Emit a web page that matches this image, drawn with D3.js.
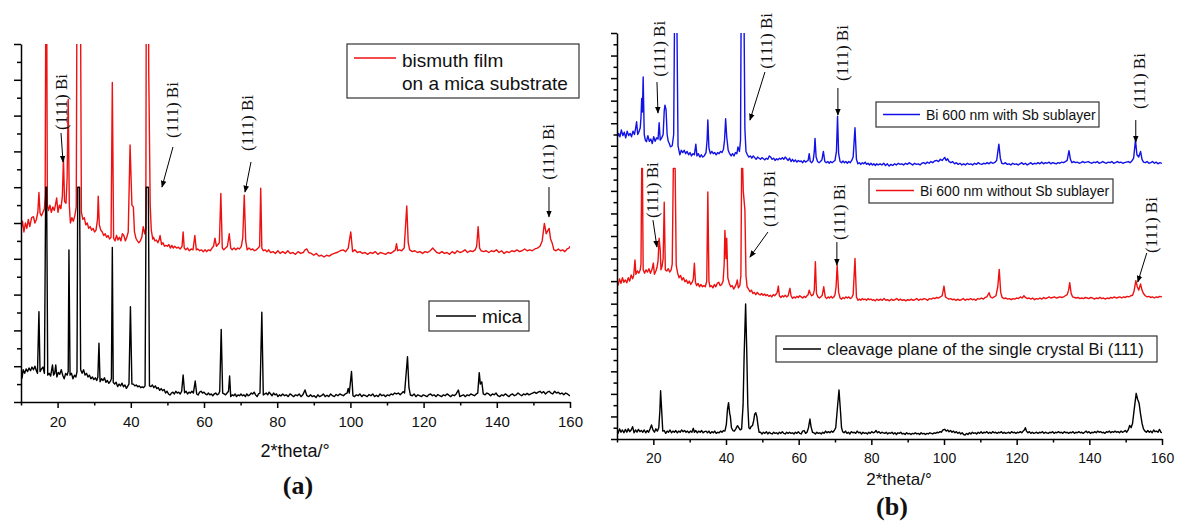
<!DOCTYPE html>
<html>
<head>
<meta charset="utf-8">
<script src="https://cdn.jsdelivr.net/npm/d3@7"></script>
<style>
  body { margin: 0; background: #fff; }
  svg { display: block; }
</style>
</head>
<body>
<div id="chart-area"></div>
<script>
// x axis ticks (2*theta, degrees)
const xMajorTicks = [20, 40, 60, 80, 100, 120, 140, 160];
const xMinorTicks = [10, 30, 50, 70, 90, 110, 130, 150];

// (a) bismuth film on a mica substrate, [2theta, intensity a.u.]
const filmA = [
  [10, 9.6], [10.4, 10.1], [10.8, 9.5], [11.2, 10.0], [11.6, 9.7], [12.0, 10.2], [12.4, 9.8], [12.9, 10.3],
  [13.4, 10.35], [13.8, 10.0], [14.2, 10.2], [14.6, 10.6], [14.9, 11.7], [15.2, 10.56], [15.6, 10.4], [16.0, 10.6],
  [16.4, 10.8], [16.6, 11.5], [16.9, 30], [17.2, 11.0], [17.5, 10.7], [17.9, 11.0], [18.3, 10.6], [18.7, 10.9],
  [19.1, 10.7], [19.4, 11.0], [19.75, 11.4], [20.1, 10.6], [20.5, 11.0], [20.9, 10.8], [21.3, 11.5], [21.6, 13.6],
  [21.9, 11.2], [22.3, 11.1], [22.6, 12.5], [22.9, 16.9], [23.2, 11.0], [23.5, 10.0], [23.9, 10.3], [24.3, 10.1],
  [24.7, 10.4], [25.1, 10.9], [25.4, 30], [26.1, 30], [26.5, 10.6], [26.9, 10.2], [27.3, 10.3], [27.7, 9.9],
  [28.1, 10.0], [28.5, 9.7], [28.9, 9.8], [29.3, 9.6], [29.7, 9.7], [30.1, 9.5], [30.5, 9.6], [30.9, 10.2],
  [31.1, 11.5], [31.4, 9.9], [31.8, 9.6], [32.2, 9.5], [32.6, 9.3], [33.0, 9.4], [33.4, 9.2], [33.8, 9.3],
  [34.2, 9.1], [34.6, 9.2], [34.95, 17.85], [35.3, 9.15], [35.7, 9.0], [36.1, 9.3], [36.5, 9.05], [36.9, 9.2],
  [37.3, 9.0], [37.7, 9.4], [38.1, 9.3], [38.5, 9.0], [38.9, 9.2], [39.3, 9.5], [39.8, 14.36], [40.3, 11.0],
  [40.7, 10.9], [41.0, 9.5], [41.4, 9.15], [41.8, 9.0], [42.2, 8.9], [42.6, 9.0], [43.0, 9.2], [43.4, 9.8],
  [43.8, 9.4], [44.1, 9.7], [44.3, 30], [44.7, 30], [44.9, 18.5], [45.3, 11], [45.6, 9.6], [46.0, 9.1],
  [46.2, 9.2], [46.6, 9.0], [47.0, 9.05], [47.4, 8.9], [47.8, 9.1], [48.0, 9.3], [48.4, 8.8], [48.8, 8.9],
  [49.2, 8.7], [49.6, 8.75], [50.0, 8.7], [50.4, 8.8], [50.8, 8.6], [51.2, 8.75], [51.6, 8.6], [52.0, 8.7],
  [52.5, 8.6], [53.0, 8.65], [53.5, 8.55], [54.0, 8.7], [54.3, 9.5], [54.6, 8.6], [55.0, 8.5], [55.5, 8.6],
  [56.0, 8.45], [56.5, 8.55], [57.0, 8.5], [57.5, 9.3], [57.9, 8.5], [58.3, 8.55], [58.8, 8.45], [59.3, 8.5],
  [59.8, 8.4], [60.3, 8.5], [60.7, 8.4], [61.2, 8.5], [61.7, 8.45], [62.2, 8.6], [62.6, 8.7], [63.0, 9.15],
  [63.4, 8.7], [63.8, 8.8], [64.2, 8.9], [64.6, 11.65], [65.0, 8.6], [65.4, 8.5], [65.9, 8.6], [66.4, 8.7],
  [66.9, 9.4], [67.3, 8.6], [67.7, 8.5], [68.2, 8.6], [68.7, 8.5], [69.2, 8.6], [69.7, 8.55], [70.2, 8.7],
  [70.6, 9.2], [71.0, 11.56], [71.4, 9.0], [71.8, 8.5], [72.3, 8.6], [72.8, 8.5], [73.3, 8.55], [73.8, 8.45],
  [74.3, 8.5], [74.8, 8.6], [75.2, 8.7], [75.5, 11.94], [75.8, 8.6], [76.2, 8.45], [76.7, 8.5], [77.2, 8.4],
  [77.7, 8.5], [78.2, 8.35], [78.9, 8.4], [79.5, 8.3], [80.2, 8.45], [80.8, 8.3], [81.5, 8.4], [82.2, 8.3],
  [82.9, 8.45], [83.6, 8.3], [84.3, 8.35], [85.0, 8.25], [85.7, 8.4], [86.4, 8.3], [87.1, 8.35], [87.6, 8.5],
  [88.1, 8.55], [88.6, 8.35], [89.3, 8.3], [90.0, 8.2], [90.7, 8.3], [91.4, 8.15], [92.1, 8.2], [92.8, 8.1],
  [93.5, 8.2], [94.2, 8.15], [94.9, 8.25], [95.6, 8.3], [96.3, 8.35], [97.2, 8.45], [98.0, 8.5], [98.7, 8.4],
  [99.4, 8.6], [100.1, 9.5], [100.6, 8.4], [101.2, 8.5], [101.9, 8.35], [102.6, 8.4], [103.3, 8.3], [104.0, 8.35],
  [104.7, 8.25], [105.4, 8.35], [106.1, 8.3], [106.8, 8.4], [107.5, 8.25], [108.2, 8.35], [108.9, 8.3], [109.6, 8.25],
  [110.3, 8.35], [111.0, 8.3], [111.7, 8.4], [112.3, 8.5], [112.6, 8.85], [112.9, 8.45], [113.4, 8.5], [114.0, 8.45],
  [114.7, 8.6], [115.4, 10.95], [115.8, 8.9], [116.2, 8.5], [116.9, 8.4], [117.6, 8.45], [118.3, 8.35], [119.0, 8.4],
  [119.7, 8.3], [120.4, 8.4], [121.1, 8.35], [121.8, 8.45], [122.5, 8.6], [122.9, 8.5], [123.6, 8.35], [124.3, 8.3],
  [125.0, 8.4], [125.7, 8.3], [126.4, 8.35], [127.1, 8.25], [127.8, 8.4], [128.5, 8.3], [129.2, 8.45], [129.9, 8.35],
  [130.6, 8.4], [131.3, 8.5], [132.0, 8.35], [132.7, 8.45], [133.4, 8.4], [134.1, 8.5], [134.5, 8.7], [134.9, 9.8],
  [135.3, 8.6], [135.7, 8.45], [136.4, 8.4], [137.1, 8.45], [137.8, 8.35], [138.5, 8.45], [139.2, 8.4], [139.9, 8.5],
  [140.6, 8.35], [141.3, 8.45], [142.0, 8.3], [142.7, 8.4], [143.4, 8.35], [144.1, 8.45], [144.8, 8.4], [145.5, 8.5],
  [146.2, 8.4], [146.9, 8.45], [147.6, 8.55], [148.3, 8.45], [149.0, 8.5], [149.7, 8.45], [150.4, 8.55], [151.1, 8.6],
  [151.8, 8.7], [152.4, 9.0], [153.0, 9.98], [153.5, 9.4], [154.0, 9.6], [154.3, 9.7], [154.7, 9.1], [155.1, 8.9],
  [155.6, 8.5], [156.2, 8.45], [156.8, 8.55], [157.4, 8.45], [158.0, 8.5], [158.6, 8.4], [159.2, 8.55], [159.7, 8.6],
  [160, 8.7]
];

// (a) mica
const micaA = [
  [10, 1.97], [10.3, 1.34], [10.6, 1.8], [11.0, 1.6], [11.4, 1.85], [11.8, 1.7], [12.2, 1.9], [12.6, 1.75],
  [13.0, 1.95], [13.4, 1.8], [13.8, 2.0], [14.2, 1.75], [14.5, 1.6], [14.9, 5.05], [15.2, 1.7], [15.6, 1.85],
  [16.0, 1.95], [16.4, 1.6], [16.75, 12], [17.0, 12], [17.3, 1.5], [17.7, 1.6], [18.1, 1.45], [18.6, 2.07],
  [18.9, 1.5], [19.2, 1.6], [19.5, 2.07], [19.8, 1.4], [20.2, 1.65], [20.6, 1.55], [21.0, 1.8], [21.4, 1.5],
  [21.8, 1.3], [22.2, 1.6], [22.6, 1.5], [22.9, 1.7], [23.1, 8.5], [23.4, 1.5], [23.8, 1.6], [24.2, 1.3],
  [24.6, 1.5], [25.0, 1.4], [25.3, 1.7], [25.5, 12], [26.0, 12], [26.3, 1.8], [26.7, 1.6], [27.1, 1.8],
  [27.5, 1.5], [27.9, 1.6], [28.3, 1.4], [28.7, 1.5], [29.1, 1.3], [29.5, 1.4], [29.9, 1.25], [30.3, 1.35],
  [30.7, 1.2], [31.0, 1.4], [31.3, 3.28], [31.6, 1.13], [32.0, 1.3], [32.4, 1.2], [32.8, 1.35], [33.2, 1.1],
  [33.6, 1.2], [34.0, 1.04], [34.4, 1.15], [34.7, 1.3], [34.95, 8.64], [35.2, 1.1], [35.6, 1.0], [36.0, 1.1],
  [36.4, 0.86], [36.8, 1.0], [37.2, 0.9], [37.6, 1.05], [38.0, 0.85], [38.4, 0.95], [38.8, 0.76], [39.2, 0.9],
  [39.5, 1.0], [39.9, 5.32], [40.3, 1.0], [40.7, 1.0], [41.1, 0.9], [41.5, 0.95], [41.9, 0.85], [42.3, 0.9],
  [42.7, 0.8], [43.1, 0.85], [43.5, 0.8], [43.9, 0.9], [44.2, 12], [44.8, 12], [45.1, 0.9], [45.5, 0.86],
  [45.9, 0.95], [46.3, 0.8], [46.7, 0.9], [47.1, 0.75], [47.5, 0.8], [47.9, 0.65], [48.3, 0.75], [48.7, 0.63],
  [49.1, 0.7], [49.5, 0.5], [49.9, 0.6], [50.3, 0.45], [50.7, 0.39], [51.1, 0.5], [51.5, 0.55], [51.9, 0.45],
  [52.3, 0.6], [52.7, 0.5], [53.1, 0.55], [53.5, 0.45], [53.9, 0.6], [54.3, 1.51], [54.7, 0.52], [55.1, 0.6],
  [55.5, 0.45], [55.9, 0.55], [56.3, 0.5], [56.7, 0.6], [57.1, 0.5], [57.6, 1.17], [58.0, 0.45], [58.4, 0.39],
  [58.8, 0.55], [59.2, 0.6], [59.6, 0.5], [60.0, 0.55], [60.4, 0.45], [60.8, 0.4], [61.2, 0.5], [61.6, 0.4],
  [62.0, 0.45], [62.4, 0.35], [62.8, 0.45], [63.2, 0.5], [63.6, 0.4], [64.0, 0.45], [64.3, 0.6], [64.7, 4.06],
  [65.1, 0.5], [65.5, 0.45], [65.9, 0.4], [66.3, 0.5], [66.7, 0.6], [67.0, 1.45], [67.3, 0.3], [67.7, 0.4],
  [68.1, 0.35], [68.5, 0.45], [68.9, 0.3], [69.3, 0.4], [69.7, 0.35], [70.1, 0.45], [70.5, 0.35], [70.9, 0.4],
  [71.3, 0.3], [71.7, 0.45], [72.1, 0.35], [72.5, 0.4], [72.9, 0.5], [73.3, 0.45], [73.7, 0.55], [74.1, 0.4],
  [74.5, 0.3], [74.9, 0.45], [75.3, 0.5], [75.8, 5.01], [76.2, 0.39], [76.6, 0.45], [77.0, 0.5], [77.4, 0.4],
  [77.8, 0.55], [78.2, 0.45], [78.6, 0.35], [79.0, 0.5], [79.4, 0.4], [79.8, 0.45], [80.2, 0.3], [80.6, 0.4],
  [81.0, 0.34], [81.5, 0.45], [82.0, 0.35], [82.5, 0.4], [83.0, 0.3], [83.5, 0.45], [84.0, 0.38], [84.5, 0.3],
  [85.0, 0.4], [85.5, 0.35], [86.0, 0.45], [86.5, 0.3], [87.0, 0.4], [87.6, 0.67], [88.1, 0.35], [88.6, 0.3],
  [89.1, 0.4], [89.6, 0.3], [90.1, 0.35], [90.6, 0.25], [91.1, 0.4], [91.6, 0.3], [92.1, 0.35], [92.6, 0.45],
  [93.1, 0.3], [93.6, 0.38], [94.1, 0.3], [94.6, 0.45], [95.1, 0.35], [95.6, 0.3], [96.1, 0.42], [96.6, 0.35],
  [97.1, 0.45], [97.6, 0.4], [98.1, 0.35], [98.6, 0.45], [99.1, 0.5], [99.4, 0.76], [99.7, 0.5], [100.3, 1.7],
  [100.7, 0.35], [101.1, 0.3], [101.6, 0.4], [102.1, 0.35], [102.6, 0.45], [103.1, 0.3], [103.6, 0.4], [104.1, 0.35],
  [104.6, 0.3], [105.1, 0.42], [105.6, 0.35], [106.1, 0.45], [106.6, 0.3], [107.1, 0.38], [107.6, 0.3], [108.1, 0.45],
  [108.6, 0.35], [109.1, 0.4], [109.6, 0.3], [110.1, 0.4], [110.6, 0.35], [111.1, 0.45], [111.6, 0.4], [112.1, 0.5],
  [112.6, 0.45], [113.1, 0.5], [113.6, 0.4], [114.1, 0.5], [114.4, 0.58], [114.8, 0.5], [115.6, 2.53], [116.0, 0.8],
  [116.4, 0.39], [116.9, 0.35], [117.4, 0.45], [117.9, 0.3], [118.4, 0.4], [118.9, 0.35], [119.4, 0.3], [119.9, 0.4],
  [120.4, 0.35], [120.9, 0.3], [121.4, 0.4], [121.9, 0.45], [122.4, 0.35], [122.9, 0.4], [123.4, 0.3], [123.9, 0.42],
  [124.4, 0.35], [124.9, 0.3], [125.4, 0.4], [125.9, 0.35], [126.4, 0.45], [126.9, 0.38], [127.4, 0.3], [127.9, 0.4],
  [128.4, 0.35], [128.9, 0.45], [129.5, 0.67], [129.9, 0.3], [130.4, 0.35], [130.9, 0.4], [131.4, 0.3], [131.9, 0.4],
  [132.4, 0.35], [132.9, 0.45], [133.4, 0.4], [133.9, 0.35], [134.4, 0.45], [134.8, 0.5], [135.2, 1.64], [135.5, 1.0],
  [135.9, 1.13], [136.3, 0.45], [136.8, 0.4], [137.3, 0.5], [137.8, 0.45], [138.3, 0.35], [138.8, 0.45], [139.3, 0.4],
  [139.8, 0.5], [140.3, 0.35], [140.8, 0.3], [141.3, 0.4], [141.8, 0.35], [142.3, 0.45], [142.8, 0.38], [143.3, 0.3],
  [143.8, 0.4], [144.3, 0.45], [144.8, 0.35], [145.3, 0.4], [145.8, 0.5], [146.3, 0.42], [146.8, 0.35], [147.3, 0.45],
  [147.8, 0.4], [148.3, 0.48], [148.8, 0.4], [149.3, 0.45], [149.8, 0.5], [150.3, 0.55], [150.8, 0.48], [151.3, 0.55],
  [151.8, 0.6], [152.3, 0.5], [152.8, 0.58], [153.3, 0.45], [153.8, 0.55], [154.3, 0.6], [154.8, 0.5], [155.3, 0.45],
  [155.8, 0.6], [156.3, 0.5], [156.8, 0.55], [157.3, 0.45], [157.8, 0.5], [158.3, 0.4], [158.8, 0.5], [159.3, 0.45],
  [160, 0.34]
];

// (b) Bi 600 nm with Sb sublayer
const withSb = [
  [10, 26.66], [10.4, 27.1], [10.8, 26.8], [11.2, 27.4], [11.6, 26.9], [12.0, 27.2], [12.4, 26.7], [12.8, 27.3],
  [13.2, 26.9], [13.6, 27.1], [14.0, 26.8], [14.4, 27.3], [14.8, 27.0], [15.1, 27.5], [15.4, 28.13], [15.7, 27.0],
  [16.0, 27.2], [16.4, 27.6], [16.6, 28.5], [16.8, 30.2], [17.0, 29.0], [17.2, 32.1], [17.5, 27.0], [17.8, 26.5],
  [18.1, 26.36], [18.5, 26.9], [18.9, 26.4], [19.3, 26.6], [19.7, 26.2], [20.1, 26.8], [20.5, 26.4], [20.9, 26.7],
  [21.3, 26.6], [21.6, 28.04], [21.9, 26.5], [22.3, 26.7], [22.7, 27.0], [23.0, 29.1], [23.2, 29.6], [23.5, 29.2],
  [23.8, 27.0], [24.1, 26.4], [24.4, 26.2], [24.7, 25.9], [25.2, 26.0], [25.6, 27], [25.9, 40], [26.4, 40],
  [26.8, 26], [27.3, 25.2], [27.7, 25.6], [28.1, 25.4], [28.5, 25.6], [28.9, 25.3], [29.3, 25.5], [29.7, 25.2],
  [30.1, 25.4], [30.5, 25.1], [30.9, 25.3], [31.3, 25.2], [31.7, 26.15], [32.0, 25.1], [32.4, 25.3], [32.8, 25.0],
  [33.2, 25.2], [33.6, 25.0], [34.0, 25.1], [34.5, 25.4], [34.8, 26.5], [35.0, 28.3], [35.3, 25.8], [35.7, 25.3],
  [36.1, 25.5], [36.5, 25.3], [36.9, 25.4], [37.3, 25.2], [37.7, 25.4], [38.1, 25.3], [38.5, 25.5], [38.9, 25.4],
  [39.3, 25.7], [39.6, 26.5], [39.9, 28.4], [40.2, 26.8], [40.6, 25.6], [41.0, 25.3], [41.4, 25.1], [41.8, 25.3],
  [42.2, 25.1], [42.6, 25.4], [43.0, 25.3], [43.3, 25.9], [43.7, 25.5], [44.0, 26.5], [44.2, 40], [44.9, 40],
  [45.2, 27.5], [45.5, 25.5], [45.9, 25.2], [46.3, 25.0], [46.7, 25.1], [47.1, 24.9], [47.5, 25.1], [47.9, 24.95],
  [48.3, 24.8], [48.7, 25.0], [49.1, 24.9], [49.5, 24.8], [49.9, 24.95], [50.3, 24.85], [50.7, 24.75], [51.1, 24.9],
  [51.5, 24.8], [51.9, 25.1], [52.3, 25.0], [52.7, 24.8], [53.1, 24.9], [53.5, 24.7], [53.9, 24.85], [54.3, 24.75],
  [54.7, 24.9], [55.1, 24.8], [55.5, 24.95], [55.9, 24.8], [56.3, 25.0], [56.7, 24.85], [57.1, 24.7], [57.5, 24.9],
  [57.9, 24.6], [58.3, 24.8], [58.7, 24.6], [59.1, 24.75], [59.5, 24.55], [59.9, 24.7], [60.3, 24.6], [60.7, 24.65],
  [61.1, 24.5], [61.5, 24.7], [61.9, 24.55], [62.3, 24.65], [62.6, 24.7], [62.9, 25.3], [63.2, 24.6], [63.6, 24.5],
  [64.0, 24.7], [64.3, 25.5], [64.5, 26.66], [64.8, 25.0], [65.2, 24.6], [65.6, 24.5], [66.0, 24.6], [66.4, 24.75],
  [66.8, 25.5], [67.2, 24.6], [67.6, 24.5], [68.0, 24.6], [68.4, 24.45], [68.8, 24.6], [69.2, 24.5], [69.6, 24.6],
  [70.0, 24.7], [70.4, 25.5], [70.7, 28.6], [71.0, 25.3], [71.4, 24.6], [71.8, 24.5], [72.2, 24.65], [72.6, 24.5],
  [73.0, 24.6], [73.4, 24.45], [73.8, 24.6], [74.2, 24.5], [74.6, 24.7], [75.0, 25.0], [75.5, 27.6], [75.9, 24.8],
  [76.3, 24.4], [76.7, 24.5], [77.1, 24.35], [77.5, 24.5], [77.9, 24.4], [78.3, 24.55], [78.7, 24.35], [79.1, 24.45],
  [79.5, 24.3], [79.9, 24.45], [80.3, 24.3], [80.7, 24.4], [81.1, 24.25], [81.5, 24.4], [81.9, 24.3], [82.4, 24.4],
  [82.9, 24.3], [83.4, 24.45], [83.9, 24.25], [84.4, 24.4], [84.9, 24.2], [85.4, 24.35], [85.9, 24.25], [86.4, 24.4],
  [86.9, 24.3], [87.4, 24.45], [87.9, 24.35], [88.4, 24.4], [88.9, 24.3], [89.4, 24.45], [89.9, 24.35], [90.4, 24.5],
  [90.9, 24.4], [91.4, 24.3], [91.9, 24.45], [92.4, 24.35], [92.9, 24.4], [93.4, 24.3], [93.9, 24.45], [94.4, 24.5],
  [94.9, 24.4], [95.4, 24.55], [95.9, 24.45], [96.4, 24.6], [96.9, 24.5], [97.4, 24.65], [98.0, 24.7], [98.5, 24.6],
  [99.0, 24.8], [99.5, 24.7], [100.2, 24.97], [100.6, 24.7], [101.0, 24.85], [101.4, 24.6], [101.9, 24.5], [102.4, 24.6],
  [102.9, 24.4], [103.4, 24.5], [103.9, 24.35], [104.4, 24.45], [104.9, 24.3], [105.4, 24.4], [105.9, 24.3], [106.4, 24.45],
  [106.9, 24.35], [107.4, 24.4], [107.9, 24.3], [108.4, 24.45], [108.9, 24.35], [109.4, 24.5], [109.9, 24.4], [110.4, 24.35],
  [110.9, 24.45], [111.4, 24.4], [111.9, 24.5], [112.4, 24.4], [112.9, 24.55], [113.4, 24.45], [113.9, 24.5], [114.5, 24.7],
  [115.1, 26.15], [115.5, 24.9], [115.9, 24.45], [116.4, 24.4], [116.9, 24.5], [117.4, 24.35], [117.9, 24.4], [118.4, 24.3],
  [118.9, 24.45], [119.4, 24.35], [119.9, 24.4], [120.4, 24.3], [120.9, 24.4], [121.4, 24.5], [121.9, 24.35], [122.4, 24.45],
  [122.9, 24.3], [123.4, 24.4], [123.9, 24.5], [124.4, 24.35], [124.9, 24.45], [125.4, 24.4], [125.9, 24.5], [126.4, 24.4],
  [126.9, 24.55], [127.4, 24.4], [127.9, 24.5], [128.4, 24.45], [128.9, 24.55], [129.4, 24.4], [129.9, 24.5], [130.4, 24.45],
  [130.9, 24.4], [131.4, 24.5], [131.9, 24.45], [132.4, 24.55], [132.9, 24.5], [133.4, 24.6], [133.9, 24.7], [134.4, 25.56],
  [134.8, 24.8], [135.2, 24.5], [135.7, 24.6], [136.2, 24.5], [136.7, 24.55], [137.2, 24.45], [137.7, 24.5], [138.2, 24.6],
  [138.7, 24.5], [139.2, 24.55], [139.7, 24.6], [140.2, 24.5], [140.7, 24.45], [141.2, 24.55], [141.7, 24.5], [142.2, 24.6],
  [142.7, 24.45], [143.2, 24.5], [143.7, 24.6], [144.2, 24.5], [144.7, 24.45], [145.2, 24.55], [145.7, 24.5], [146.2, 24.6],
  [146.7, 24.45], [147.2, 24.5], [147.7, 24.6], [148.2, 24.5], [148.7, 24.55], [149.2, 24.45], [149.7, 24.5], [150.2, 24.55],
  [150.7, 24.6], [151.2, 24.5], [151.7, 24.65], [152.2, 24.9], [152.7, 26.5], [153.1, 25.2], [153.6, 25.0], [154.1, 25.5],
  [154.5, 24.8], [154.9, 24.55], [155.4, 24.5], [155.9, 24.6], [156.4, 24.45], [156.9, 24.5], [157.4, 24.6], [157.9, 24.45],
  [158.4, 24.55], [158.9, 24.4], [159.4, 24.5], [160, 24.44]
];

// (b) Bi 600 nm without Sb sublayer
const withoutSb = [
  [10, 14.1], [10.3, 13.65], [10.7, 14.2], [11.1, 13.8], [11.5, 14.3], [11.9, 13.9], [12.3, 14.1], [12.7, 13.85],
  [13.1, 14.3], [13.5, 14.0], [13.9, 14.54], [14.3, 14.2], [14.6, 14.5], [14.95, 15.87], [15.2, 14.6], [15.6, 14.9],
  [16.0, 14.7], [16.4, 15.0], [16.6, 15.5], [16.8, 24], [17.0, 24], [17.2, 15.0], [17.6, 14.7], [18.0, 15.0],
  [18.4, 14.8], [18.8, 15.1], [19.2, 14.7], [19.6, 15.0], [20.0, 15.6], [20.3, 14.6], [20.7, 14.9], [21.0, 15.2],
  [21.3, 15.8], [21.6, 17.8], [21.9, 16.76], [22.1, 15.0], [22.4, 15.3], [22.7, 16], [23.0, 21.0], [23.3, 15.0],
  [23.7, 14.9], [24.1, 15.1], [24.5, 14.8], [24.9, 15.0], [25.2, 15.5], [25.5, 24], [26.0, 24], [26.3, 15.4],
  [26.7, 14.7], [27.1, 14.3], [27.5, 14.5], [27.9, 14.1], [28.3, 14.3], [28.7, 13.95], [29.1, 14.1], [29.5, 13.8],
  [29.9, 14.0], [30.3, 13.7], [30.7, 13.9], [31.0, 14.2], [31.3, 15.58], [31.6, 13.9], [31.9, 13.6], [32.3, 13.8],
  [32.7, 13.5], [33.1, 13.7], [33.5, 13.5], [33.9, 13.6], [34.3, 13.5], [34.7, 14.0], [35.0, 21.9], [35.3, 14.0],
  [35.6, 13.5], [36.0, 13.6], [36.4, 13.4], [36.8, 13.7], [37.2, 13.5], [37.6, 13.8], [38.0, 13.9], [38.4, 13.6],
  [38.8, 13.7], [39.2, 14.0], [39.5, 15.5], [39.7, 18.5], [40.0, 16.0], [40.2, 17.8], [40.5, 14.3], [40.9, 13.8],
  [41.3, 13.5], [41.7, 13.6], [42.1, 13.3], [42.5, 13.5], [42.9, 13.8], [43.1, 14.1], [43.4, 13.4], [43.8, 13.6],
  [44.1, 14.5], [44.3, 24], [44.6, 24], [44.75, 22], [45.2, 20.3], [45.5, 14.5], [45.8, 13.5], [46.2, 13.3],
  [46.6, 13.06], [47.0, 13.2], [47.4, 12.9], [47.8, 13.0], [48.2, 12.8], [48.6, 13.0], [49.0, 12.85], [49.4, 12.77],
  [49.8, 12.9], [50.2, 12.75], [50.6, 12.85], [51.0, 12.7], [51.4, 12.8], [51.8, 12.65], [52.2, 12.75], [52.6, 12.6],
  [53.0, 12.8], [53.4, 12.7], [53.8, 12.85], [54.1, 13.0], [54.4, 13.56], [54.7, 12.7], [55.1, 12.55], [55.5, 12.7],
  [55.9, 12.6], [56.3, 12.75], [56.7, 12.6], [57.1, 12.7], [57.6, 13.36], [57.9, 12.7], [58.3, 12.47], [58.7, 12.6],
  [59.1, 12.5], [59.5, 12.65], [59.9, 12.55], [60.3, 12.7], [60.7, 12.6], [61.1, 12.5], [61.5, 12.65], [61.9, 12.55],
  [62.3, 12.7], [62.6, 12.8], [62.9, 13.2], [63.2, 12.9], [63.6, 12.7], [64.0, 12.8], [64.3, 13.2], [64.6, 15.72],
  [64.9, 12.9], [65.3, 12.6], [65.7, 12.5], [66.1, 12.6], [66.5, 12.75], [66.9, 13.5], [67.3, 12.6], [67.7, 12.45],
  [68.1, 12.6], [68.5, 12.5], [68.9, 12.65], [69.3, 12.5], [69.7, 12.6], [70.0, 12.8], [70.3, 13.5], [70.6, 15.4],
  [71.0, 13.0], [71.4, 12.5], [71.8, 12.4], [72.2, 12.55], [72.6, 12.45], [73.0, 12.6], [73.4, 12.5], [73.8, 12.6],
  [74.2, 12.45], [74.6, 12.55], [75.0, 12.8], [75.5, 16.0], [75.9, 12.6], [76.3, 12.3], [76.7, 12.4], [77.1, 12.3],
  [77.5, 12.45], [77.9, 12.35], [78.3, 12.4], [78.7, 12.3], [79.1, 12.45], [79.5, 12.35], [79.9, 12.4], [80.3, 12.3],
  [80.7, 12.35], [81.1, 12.25], [81.5, 12.4], [82.0, 12.3], [82.5, 12.4], [83.0, 12.3], [83.5, 12.45], [84.0, 12.3],
  [84.5, 12.35], [85.0, 12.25], [85.5, 12.4], [86.0, 12.3], [86.5, 12.35], [87.0, 12.45], [87.5, 12.3], [88.0, 12.4],
  [88.5, 12.3], [89.0, 12.35], [89.5, 12.25], [90.0, 12.35], [90.5, 12.3], [91.0, 12.4], [91.5, 12.3], [92.0, 12.35],
  [92.5, 12.45], [93.0, 12.3], [93.5, 12.4], [94.0, 12.35], [94.5, 12.45], [95.0, 12.4], [95.5, 12.3], [96.0, 12.45],
  [96.5, 12.4], [97.0, 12.5], [97.5, 12.45], [98.0, 12.55], [98.5, 12.5], [99.0, 12.6], [99.5, 12.7], [100.0, 13.56],
  [100.4, 12.6], [100.8, 12.5], [101.3, 12.4], [101.8, 12.45], [102.3, 12.35], [102.8, 12.4], [103.3, 12.3], [103.8, 12.4],
  [104.3, 12.3], [104.8, 12.35], [105.3, 12.45], [105.8, 12.3], [106.3, 12.4], [106.8, 12.35], [107.3, 12.45], [107.8, 12.35],
  [108.3, 12.4], [108.8, 12.3], [109.3, 12.45], [109.8, 12.4], [110.3, 12.5], [110.8, 12.4], [111.3, 12.55], [111.8, 12.6],
  [112.4, 12.97], [112.8, 12.6], [113.3, 12.5], [113.8, 12.6], [114.3, 12.7], [114.8, 13.5], [115.2, 15.04], [115.6, 13.0],
  [116.0, 12.55], [116.5, 12.45], [117.0, 12.5], [117.5, 12.4], [118.0, 12.45], [118.5, 12.35], [119.0, 12.45], [119.5, 12.4],
  [120.0, 12.5], [120.5, 12.45], [121.0, 12.6], [121.5, 12.5], [122.0, 12.7], [122.4, 12.55], [122.9, 12.45], [123.4, 12.5],
  [123.9, 12.4], [124.4, 12.5], [124.9, 12.35], [125.4, 12.45], [125.9, 12.4], [126.4, 12.5], [126.9, 12.4], [127.4, 12.55],
  [127.9, 12.45], [128.4, 12.5], [128.9, 12.6], [129.4, 12.5], [129.9, 12.55], [130.4, 12.6], [130.9, 12.5], [131.4, 12.55],
  [131.9, 12.6], [132.4, 12.55], [132.9, 12.6], [133.4, 12.7], [133.9, 12.8], [134.3, 13.2], [134.6, 13.86], [135.0, 12.9],
  [135.4, 12.6], [135.9, 12.55], [136.4, 12.5], [136.9, 12.55], [137.4, 12.45], [137.9, 12.5], [138.4, 12.45], [138.9, 12.55],
  [139.4, 12.5], [139.9, 12.45], [140.4, 12.55], [140.9, 12.5], [141.4, 12.4], [141.9, 12.5], [142.4, 12.45], [142.9, 12.55],
  [143.4, 12.45], [143.9, 12.5], [144.4, 12.4], [144.9, 12.5], [145.4, 12.45], [145.9, 12.55], [146.4, 12.5], [146.9, 12.6],
  [147.4, 12.5], [147.9, 12.55], [148.4, 12.6], [148.9, 12.5], [149.4, 12.6], [149.9, 12.55], [150.4, 12.65], [150.9, 12.6],
  [151.4, 12.7], [151.9, 12.75], [152.3, 13.1], [152.8, 14.04], [153.2, 13.5], [153.6, 13.2], [154.1, 13.74], [154.5, 13.2],
  [154.9, 12.9], [155.4, 12.7], [155.9, 12.6], [156.4, 12.65], [156.9, 12.55], [157.4, 12.6], [157.9, 12.5], [158.4, 12.6],
  [158.9, 12.55], [159.4, 12.65], [160, 12.6]
];

// (b) cleavage plane of the single crystal Bi (111)
const cleavage = [
  [10, 0.95], [10.3, 0.5], [10.7, 0.9], [11.1, 0.6], [11.5, 0.8], [11.9, 0.55], [12.3, 0.85], [12.7, 0.6],
  [13.1, 0.9], [13.5, 0.65], [13.9, 0.8], [14.3, 1.09], [14.7, 0.55], [15.1, 0.8], [15.5, 0.6], [15.9, 0.85],
  [16.3, 0.65], [16.7, 0.75], [17.1, 0.6], [17.5, 0.8], [17.9, 0.55], [18.3, 0.75], [18.7, 0.6], [19.1, 0.9],
  [19.5, 1.24], [19.9, 0.8], [20.3, 0.6], [20.7, 0.9], [21.1, 0.7], [21.5, 1.0], [21.8, 2.5], [22.0, 4.28],
  [22.3, 2.5], [22.6, 0.7], [23.0, 0.75], [23.4, 0.5], [23.8, 0.7], [24.2, 0.6], [24.6, 0.8], [25.0, 0.55],
  [25.4, 0.7], [25.8, 0.6], [26.2, 0.75], [26.6, 0.55], [27.0, 0.7], [27.4, 0.6], [27.8, 0.8], [28.2, 0.65],
  [28.6, 0.75], [29.0, 0.6], [29.4, 0.7], [29.8, 0.55], [30.2, 0.7], [30.6, 0.6], [31.0, 0.95], [31.3, 0.6],
  [31.7, 0.75], [32.1, 0.55], [32.5, 0.7], [32.9, 0.6], [33.3, 0.75], [33.7, 0.55], [34.1, 0.65], [34.5, 0.7],
  [34.9, 0.55], [35.3, 0.7], [35.7, 0.5], [36.1, 0.65], [36.5, 0.55], [36.9, 0.7], [37.3, 0.5], [37.7, 0.6],
  [38.1, 0.55], [38.5, 0.7], [38.9, 0.6], [39.3, 0.75], [39.7, 0.7], [40.1, 1.3], [40.4, 2.6], [40.7, 3.22],
  [41.0, 2.3], [41.2, 1.98], [41.5, 1.0], [41.9, 0.75], [42.3, 0.7], [42.7, 0.9], [43.0, 1.1], [43.2, 1.18],
  [43.5, 1.0], [43.9, 0.8], [44.3, 0.9], [44.7, 3.0], [45.0, 7.5], [45.4, 11.97], [45.7, 8.0], [46.0, 3.0],
  [46.3, 1.0], [46.6, 0.9], [46.9, 1.1], [47.3, 1.2], [47.6, 1.6], [47.9, 2.2], [48.2, 2.33], [48.5, 1.98],
  [48.8, 1.2], [49.1, 0.6], [49.5, 0.6], [49.9, 0.45], [50.3, 0.6], [50.7, 0.5], [51.1, 0.65], [51.5, 0.45],
  [51.9, 0.6], [52.3, 0.5], [52.7, 0.45], [53.1, 0.6], [53.5, 0.5], [53.9, 0.55], [54.3, 0.45], [54.7, 0.6],
  [55.1, 0.5], [55.5, 0.65], [55.9, 0.5], [56.3, 0.45], [56.7, 0.6], [57.1, 0.5], [57.5, 0.6], [57.9, 0.5],
  [58.3, 0.55], [58.7, 0.45], [59.1, 0.6], [59.5, 0.5], [59.9, 0.65], [60.3, 0.5], [60.7, 0.45], [61.1, 0.7],
  [61.5, 0.75], [61.9, 0.5], [62.3, 0.6], [62.7, 1.0], [63.1, 1.77], [63.4, 1.1], [63.8, 0.6], [64.2, 0.55],
  [64.6, 0.45], [65.0, 0.6], [65.4, 0.5], [65.8, 0.55], [66.2, 0.45], [66.6, 0.6], [67.0, 0.5], [67.4, 0.7],
  [67.8, 0.55], [68.2, 0.65], [68.6, 0.55], [69.0, 0.7], [69.4, 0.6], [69.8, 0.75], [70.2, 1.0], [70.6, 2.5],
  [71.1, 4.34], [71.5, 2.5], [71.8, 1.0], [72.1, 0.65], [72.5, 0.55], [72.9, 0.7], [73.3, 0.5], [73.7, 0.6],
  [74.1, 0.45], [74.5, 0.65], [74.9, 0.55], [75.3, 0.6], [75.7, 0.5], [76.1, 0.7], [76.5, 0.55], [76.9, 0.6],
  [77.3, 0.45], [77.7, 0.6], [78.1, 0.5], [78.5, 0.55], [78.9, 0.45], [79.3, 0.6], [79.7, 0.5], [80.1, 0.65],
  [80.5, 0.55], [80.9, 0.6], [81.3, 0.75], [81.7, 0.55], [82.1, 0.65], [82.5, 0.5], [82.9, 0.6], [83.3, 0.55],
  [83.7, 0.5], [84.1, 0.6], [84.5, 0.45], [84.9, 0.55], [85.3, 0.5], [85.7, 0.6], [86.1, 0.45], [86.5, 0.55],
  [86.9, 0.4], [87.3, 0.55], [87.7, 0.5], [88.1, 0.6], [88.5, 0.45], [88.9, 0.5], [89.3, 0.4], [89.7, 0.55],
  [90.1, 0.45], [90.5, 0.5], [90.9, 0.4], [91.3, 0.5], [91.7, 0.45], [92.1, 0.55], [92.5, 0.45], [92.9, 0.5],
  [93.3, 0.4], [93.7, 0.55], [94.1, 0.45], [94.5, 0.5], [94.9, 0.4], [95.3, 0.5], [95.7, 0.45], [96.1, 0.55],
  [96.5, 0.5], [96.9, 0.45], [97.3, 0.55], [97.7, 0.5], [98.1, 0.6], [98.5, 0.55], [98.9, 0.65], [99.3, 0.6],
  [99.7, 0.8], [100.2, 0.86], [100.6, 0.7], [101.0, 0.8], [101.4, 0.65], [101.8, 0.75], [102.2, 0.6], [102.6, 0.7],
  [103.0, 0.55], [103.4, 0.65], [103.8, 0.5], [104.2, 0.6], [104.6, 0.45], [105.0, 0.55], [105.4, 0.4], [105.8, 0.35],
  [106.2, 0.5], [106.6, 0.4], [107.0, 0.55], [107.4, 0.45], [107.8, 0.6], [108.2, 0.5], [108.6, 0.55], [109.0, 0.45],
  [109.4, 0.6], [109.8, 0.5], [110.2, 0.65], [110.6, 0.5], [111.0, 0.6], [111.4, 0.55], [111.8, 0.65], [112.2, 0.5],
  [112.6, 0.6], [113.0, 0.5], [113.4, 0.65], [113.8, 0.55], [114.2, 0.6], [114.6, 0.5], [115.0, 0.6], [115.4, 0.55],
  [115.8, 0.65], [116.2, 0.5], [116.6, 0.6], [117.0, 0.5], [117.4, 0.55], [117.8, 0.6], [118.2, 0.5], [118.6, 0.65],
  [119.0, 0.55], [119.4, 0.6], [119.8, 0.5], [120.2, 0.6], [120.6, 0.55], [121.0, 0.65], [121.4, 0.55], [121.8, 0.7],
  [122.1, 0.8], [122.4, 1.0], [122.7, 0.7], [123.1, 0.55], [123.5, 0.65], [123.9, 0.5], [124.3, 0.6], [124.7, 0.5],
  [125.1, 0.55], [125.5, 0.6], [125.9, 0.5], [126.3, 0.6], [126.7, 0.55], [127.1, 0.65], [127.5, 0.5], [127.9, 0.6],
  [128.3, 0.55], [128.7, 0.5], [129.1, 0.6], [129.5, 0.55], [129.9, 0.65], [130.3, 0.5], [130.7, 0.6], [131.1, 0.55],
  [131.5, 0.65], [131.9, 0.55], [132.3, 0.6], [132.7, 0.5], [133.1, 0.65], [133.5, 0.55], [133.9, 0.6], [134.3, 0.5],
  [134.7, 0.6], [135.1, 0.55], [135.5, 0.65], [135.9, 0.5], [136.3, 0.6], [136.7, 0.55], [137.1, 0.65], [137.5, 0.55],
  [137.9, 0.6], [138.3, 0.5], [138.7, 0.6], [139.1, 0.7], [139.5, 0.55], [139.9, 0.65], [140.3, 0.5], [140.7, 0.6],
  [141.1, 0.55], [141.5, 0.65], [141.9, 0.55], [142.3, 0.7], [142.7, 0.6], [143.1, 0.65], [143.5, 0.55], [143.9, 0.6],
  [144.3, 0.5], [144.7, 0.65], [145.1, 0.6], [145.5, 0.7], [145.9, 0.55], [146.3, 0.65], [146.7, 0.6], [147.1, 0.7],
  [147.5, 0.6], [147.9, 0.65], [148.3, 0.55], [148.7, 0.7], [149.1, 0.6], [149.5, 0.65], [149.9, 0.75], [150.3, 0.6],
  [150.7, 0.8], [151.1, 1.2], [151.5, 1.0], [151.9, 1.4], [152.3, 2.5], [152.9, 4.05], [153.3, 3.5], [153.7, 3.16],
  [154.1, 2.2], [154.5, 1.4], [154.9, 0.9], [155.3, 0.7], [155.7, 0.6], [156.1, 0.75], [156.5, 0.6], [156.9, 0.7],
  [157.3, 0.55], [157.7, 0.8], [158.1, 0.65], [158.5, 0.7], [158.9, 0.6], [159.3, 0.85], [159.7, 0.6], [160, 0.56]
];

// "(111) Bi" labels: text centre (tx, ty), arrow from (x1, y1) to (x2, y2), all in data units
const labelsA = [
  { tx: 21.2, ty: 16.76, x1: 20.93, y1: 15.03, x2: 21.48, y2: 13.41 },
  { tx: 51.26, ty: 16.31, x1: 51.53, y1: 14.25, x2: 48.52, y2: 12.01 },
  { tx: 72.02, ty: 15.59, x1: 72.84, y1: 13.41, x2: 71.2, y2: 11.73 },
  { tx: 154.26, ty: 13.97, x1: 154.26, y1: 12.01, x2: 154.26, y2: 10.34 }
];
const labelsB = [
  { tx: 21.83, ty: 34.6, x1: 21.0, y1: 31.65, x2: 21.28, y2: 28.9 },
  { tx: 51.27, ty: 35.3, x1: 50.72, y1: 32.54, x2: 46.59, y2: 28.28 },
  { tx: 72.17, ty: 34.22, x1: 70.8, y1: 31.12, x2: 70.8, y2: 28.72 },
  { tx: 153.88, ty: 31.74, x1: 152.78, y1: 28.28, x2: 152.78, y2: 26.33 },
  { tx: 19.9, ty: 22.07, x1: 19.9, y1: 19.41, x2: 21.0, y2: 17.02 },
  { tx: 52.09, ty: 21.28, x1: 51.54, y1: 18.35, x2: 46.59, y2: 16.13 },
  { tx: 71.35, ty: 20.12, x1: 70.52, y1: 17.46, x2: 70.52, y2: 15.43 },
  { tx: 157.18, ty: 18.97, x1: 155.8, y1: 16.49, x2: 153.33, y2: 13.92 }
];

const width = 1178;
const height = 530;
const sans = "'Liberation Sans', Arial, Helvetica, sans-serif";
const serif = "'Liberation Serif', 'Times New Roman', serif";
const RED = "#ee1111";
const BLUE = "#1212e6";

const svg = d3
  .select("#chart-area")
  .append("svg")
  .attr("width", width)
  .attr("height", height);

// arrow head used by the (111) Bi labels
svg.append("defs")
  .append("marker")
  .attr("id", "arrow")
  .attr("viewBox", "0 0 10 10")
  .attr("refX", 9)
  .attr("refY", 5)
  .attr("markerWidth", 7)
  .attr("markerHeight", 7)
  .attr("markerUnits", "userSpaceOnUse")
  .attr("orient", "auto")
  .append("path")
  .attr("d", "M0,1 L10,5 L0,9 Z")
  .attr("fill", "#000");

function drawPanel(cfg) {
  const x = d3.scaleLinear().domain([10, 160]).range([cfg.left, cfg.right]);
  const y = d3.scaleLinear().domain([0, cfg.yMax]).range([cfg.bottom, cfg.top]);
  const g = svg.append("g");

  // clip the spectra at the plot area
  svg.select("defs")
    .append("clipPath")
    .attr("id", cfg.id + "-clip")
    .append("rect")
    .attr("x", cfg.left)
    .attr("y", cfg.top)
    .attr("width", cfg.right - cfg.left)
    .attr("height", cfg.bottom - cfg.top);

  const line = d3.line().x(d => x(d[0])).y(d => y(d[1]));

  const plot = g.append("g").attr("clip-path", `url(#${cfg.id}-clip)`);
  cfg.series.forEach(s => {
    plot.append("path")
      .datum(s.data)
      .attr("d", line)
      .attr("fill", "none")
      .attr("stroke", s.color)
      .attr("stroke-width", 1.4)
      .attr("stroke-linejoin", "round");
  });

  // y axis: ticks only, no labels
  const yMajor = d3.range(0, cfg.yMax + 1, 2);
  const yMinor = d3.range(1, cfg.yMax, 2);
  const yAxisMajor = g.append("g")
    .attr("transform", `translate(${cfg.left},0)`)
    .call(d3.axisLeft(y).tickValues(yMajor).tickSize(cfg.yMajorLen).tickSizeOuter(0).tickFormat(""));
  const yAxisMinor = g.append("g")
    .attr("transform", `translate(${cfg.left},0)`)
    .call(d3.axisLeft(y).tickValues(yMinor).tickSize(cfg.yMinorLen).tickFormat(""));
  yAxisMinor.select(".domain").remove();

  // x axis
  const xAxisMajor = g.append("g")
    .attr("transform", `translate(0,${cfg.bottom})`)
    .call(d3.axisBottom(x).tickValues(xMajorTicks).tickSize(6).tickSizeOuter(0).tickPadding(8));
  const xAxisMinor = g.append("g")
    .attr("transform", `translate(0,${cfg.bottom})`)
    .call(d3.axisBottom(x).tickValues(xMinorTicks).tickSize(3.5).tickFormat(""));
  xAxisMinor.select(".domain").remove();

  [yAxisMajor, yAxisMinor, xAxisMajor, xAxisMinor].forEach(a => {
    a.selectAll("path, line").attr("stroke", "#000").attr("stroke-width", 1.5);
  });
  xAxisMajor.selectAll("text")
    .attr("font-family", sans)
    .attr("font-size", cfg.tickFont)
    .attr("fill", "#111");

  // axis title and panel letter
  g.append("text")
    .attr("x", cfg.titleX)
    .attr("y", cfg.titleY)
    .attr("text-anchor", "middle")
    .attr("font-family", sans)
    .attr("font-size", cfg.titleFont)
    .attr("fill", "#111")
    .text("2*theta/°");

  g.append("text")
    .attr("x", cfg.letterX)
    .attr("y", cfg.letterY)
    .attr("text-anchor", "middle")
    .attr("font-family", serif)
    .attr("font-size", 26)
    .attr("font-weight", "bold")
    .attr("fill", "#111")
    .text(`(${cfg.letter})`);

  // (111) Bi labels with arrows
  cfg.labels.forEach(l => {
    g.append("text")
      .attr("transform", `translate(${x(l.tx)},${y(l.ty)}) rotate(-90)`)
      .attr("text-anchor", "middle")
      .attr("dominant-baseline", "central")
      .attr("font-family", serif)
      .attr("font-size", 17)
      .attr("fill", "#111")
      .text("(111) Bi");
    g.append("line")
      .attr("x1", x(l.x1))
      .attr("y1", y(l.y1))
      .attr("x2", x(l.x2))
      .attr("y2", y(l.y2))
      .attr("stroke", "#000")
      .attr("stroke-width", 1)
      .attr("marker-end", "url(#arrow)");
  });

  // legend boxes
  cfg.legends.forEach(lg => {
    const box = g.append("g");
    box.append("rect")
      .attr("x", lg.x)
      .attr("y", lg.y)
      .attr("width", lg.w)
      .attr("height", lg.h)
      .attr("fill", "#fff")
      .attr("stroke", "#333")
      .attr("stroke-width", 1.2);
    box.append("line")
      .attr("x1", lg.x + 7)
      .attr("x2", lg.x + 7 + lg.lineLen)
      .attr("y1", lg.lineY)
      .attr("y2", lg.lineY)
      .attr("stroke", lg.color)
      .attr("stroke-width", 1.4);
    lg.text.forEach((t, i) => {
      box.append("text")
        .attr("x", lg.x + 13 + lg.lineLen)
        .attr("y", lg.textY + i * lg.lineGap)
        .attr("font-family", sans)
        .attr("font-size", lg.font)
        .attr("fill", "#111")
        .text(t);
    });
  });
}

// (a) film on mica
drawPanel({
  id: "a",
  left: 21, right: 570, top: 44, bottom: 402, yMax: 20,
  yMajorLen: 7, yMinorLen: 4, tickFont: 15,
  titleX: 295, titleY: 457, titleFont: 18,
  letter: "a", letterX: 298, letterY: 494,
  series: [
    { data: filmA, color: RED },
    { data: micaA, color: "#000" }
  ],
  labels: labelsA,
  legends: [
    { x: 347, y: 44, w: 232, h: 54, color: RED, lineLen: 42, lineY: 58,
      text: ["bismuth film", "on a mica substrate"], textY: 66.5, lineGap: 23.5, font: 19 },
    { x: 429, y: 301, w: 100, h: 30, color: "#000", lineLen: 40, lineY: 316,
      text: ["mica"], textY: 323, lineGap: 0, font: 19 }
  ]
});

// (b) Bi films and single crystal
drawPanel({
  id: "b",
  left: 617, right: 1162, top: 33, bottom: 439, yMax: 36,
  yMajorLen: 6, yMinorLen: 3.5, tickFont: 14,
  titleX: 899, titleY: 485, titleFont: 17,
  letter: "b", letterX: 892, letterY: 515,
  series: [
    { data: cleavage, color: "#000" },
    { data: withoutSb, color: RED },
    { data: withSb, color: BLUE }
  ],
  labels: labelsB,
  legends: [
    { x: 876, y: 102, w: 223, h: 25, color: BLUE, lineLen: 37, lineY: 114.5,
      text: ["Bi 600 nm with Sb sublayer"], textY: 119.5, lineGap: 0, font: 14 },
    { x: 869, y: 179, w: 244, h: 24, color: RED, lineLen: 38, lineY: 190.5,
      text: ["Bi 600 nm without Sb sublayer"], textY: 196, lineGap: 0, font: 14 },
    { x: 776, y: 336, w: 381, h: 26, color: "#000", lineLen: 38, lineY: 349,
      text: ["cleavage plane of the single crystal Bi (111)"], textY: 355, lineGap: 0, font: 16.5 }
  ]
});
</script>
</body>
</html>
